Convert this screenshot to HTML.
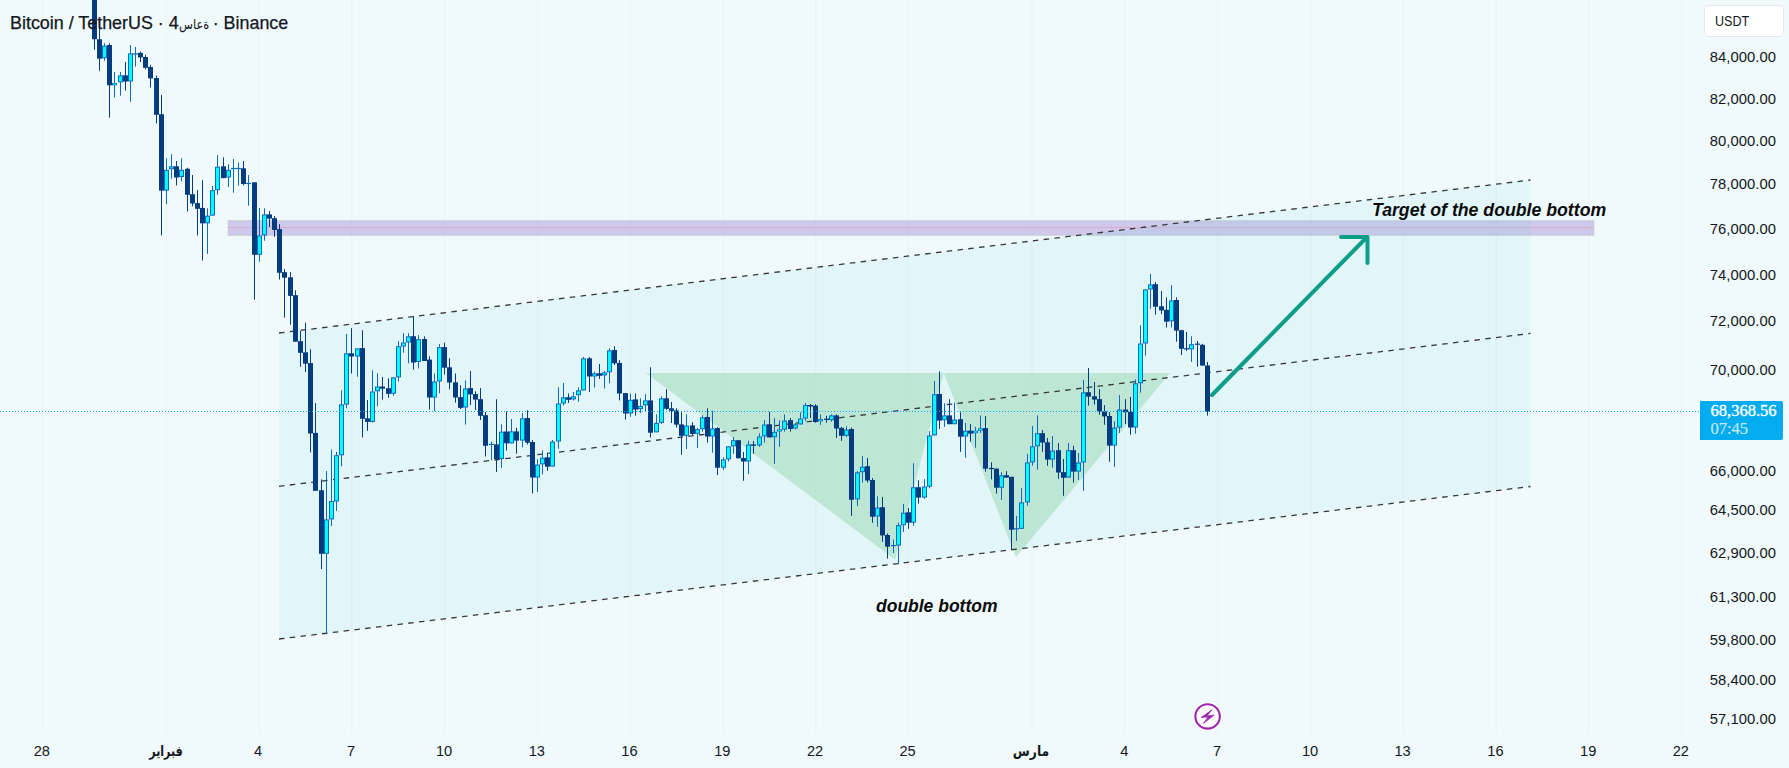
<!DOCTYPE html>
<html lang="ar"><head><meta charset="utf-8"><title>Bitcoin / TetherUS</title>
<style>
html,body{margin:0;padding:0;}
body{width:1789px;height:768px;overflow:hidden;background:#f0f9fb;font-family:"Liberation Sans","DejaVu Sans",sans-serif;}
#chart{position:absolute;left:0;top:0;width:1789px;height:768px;background:#f0f9fb;}
svg{position:absolute;left:0;top:0;}
.pl{transform:translateY(-0.4px);position:absolute;right:13px;width:90px;text-align:right;font-size:14.8px;line-height:16px;height:16px;color:#131722;letter-spacing:0.05px;}
.tl{position:absolute;top:742.8px;width:80px;margin-left:-40px;text-align:center;font-size:14.6px;line-height:16px;height:16px;color:#131722;}
.tl.b{font-weight:bold;font-family:"DejaVu Sans","Liberation Sans",sans-serif;font-size:14.5px;transform:scaleX(.76);top:742.6px;}
#title{position:absolute;left:10px;top:12.8px;font-size:17.9px;-webkit-text-stroke:0.25px #131722;line-height:20px;color:#131722;white-space:nowrap;}
#title .ar{unicode-bidi:bidi-override;direction:ltr;font-family:"DejaVu Sans",sans-serif;font-size:13.6px;-webkit-text-stroke:0;display:inline-block;transform-origin:0 70%;transform:scaleX(.84);margin-right:-7px;}
#usdt{position:absolute;left:1704px;top:5px;width:78px;height:30px;border:1px solid #e4e8ee;border-radius:5px;background:#fff;box-sizing:content-box;}
#usdt span{position:absolute;left:10px;top:7px;font-size:14.6px;line-height:16px;color:#131722;display:inline-block;transform-origin:0 50%;transform:scaleX(.86);}
#plabel{position:absolute;left:1700px;top:401px;width:83px;height:39px;background:#02acee;border-radius:0 2px 2px 0;color:#fff;}
#plabel .p{position:absolute;left:10.5px;top:0.7px;font-size:16.5px;line-height:18px;font-weight:normal;-webkit-text-stroke:0.35px #fff;font-family:"Liberation Serif",serif;white-space:nowrap;}
#plabel .t{position:absolute;left:10.5px;top:19.2px;font-size:16.5px;line-height:18px;color:#c6eafa;-webkit-text-stroke:0.2px #c6eafa;font-family:"Liberation Serif",serif;}
.ann{position:absolute;font-weight:bold;font-style:italic;font-size:17.7px;line-height:20px;color:#0b0b0b;white-space:nowrap;}
</style></head><body><div id="chart">

<svg width="1789" height="768" viewBox="0 0 1789 768">
<rect x="42.1" y="0" width="1" height="733" fill="#e9f2f6"/>
<rect x="165.8" y="0" width="1" height="733" fill="#e9f2f6"/>
<rect x="258.3" y="0" width="1" height="733" fill="#e9f2f6"/>
<rect x="351.3" y="0" width="1" height="733" fill="#e9f2f6"/>
<rect x="444.3" y="0" width="1" height="733" fill="#e9f2f6"/>
<rect x="537.1" y="0" width="1" height="733" fill="#e9f2f6"/>
<rect x="629.7" y="0" width="1" height="733" fill="#e9f2f6"/>
<rect x="722.6" y="0" width="1" height="733" fill="#e9f2f6"/>
<rect x="815.3" y="0" width="1" height="733" fill="#e9f2f6"/>
<rect x="907.8" y="0" width="1" height="733" fill="#e9f2f6"/>
<rect x="1031.5" y="0" width="1" height="733" fill="#e9f2f6"/>
<rect x="1124.5" y="0" width="1" height="733" fill="#e9f2f6"/>
<rect x="1217.3" y="0" width="1" height="733" fill="#e9f2f6"/>
<rect x="1310.3" y="0" width="1" height="733" fill="#e9f2f6"/>
<rect x="1402.9" y="0" width="1" height="733" fill="#e9f2f6"/>
<rect x="1495.7" y="0" width="1" height="733" fill="#e9f2f6"/>
<rect x="1588.5" y="0" width="1" height="733" fill="#e9f2f6"/>
<rect x="1681.1" y="0" width="1" height="733" fill="#e9f2f6"/>
<rect x="228" y="220.5" width="1366" height="15" fill="#b9a6e0" fill-opacity="0.6" stroke="#c9d4cf" stroke-opacity="0.7" stroke-width="1"/>
<line x1="228" y1="227.5" x2="1594" y2="227.5" stroke="#e88fb0" stroke-opacity="0.5" stroke-width="1"/>
<polygon points="279,333 1530.5,180 1530.5,486.5 279,639" fill="#26c6da" fill-opacity="0.07"/>
<polygon points="646,373 943.8,373 895,559.5" fill="#a5dcbe" fill-opacity="0.6"/>
<polygon points="943.8,373 1170,373 1016,557" fill="#a5dcbe" fill-opacity="0.6"/>
<line x1="279" y1="333" x2="1530.5" y2="180" stroke="#383838" stroke-width="1.3" stroke-dasharray="5.5,5.35"/>
<line x1="279" y1="486.3" x2="1530.5" y2="333.4" stroke="#383838" stroke-width="1.3" stroke-dasharray="5.5,5.35"/>
<line x1="279" y1="639" x2="1530.5" y2="486.5" stroke="#383838" stroke-width="1.3" stroke-dasharray="5.5,5.35"/>
<rect x="94" y="-2.0" width="1" height="51.7" fill="#053c80"/>
<rect x="92" y="-2.0" width="5" height="41.2" fill="#053c80"/>
<rect x="99" y="27.3" width="1" height="43.4" fill="#053c80"/>
<rect x="97" y="39.2" width="5" height="19.5" fill="#053c80"/>
<rect x="104" y="43.2" width="1" height="17.5" fill="#0b6cbf"/>
<rect x="102" y="45.6" width="5" height="12.7" fill="#0b6cbf"/><rect x="103" y="46.6" width="3" height="10.7" fill="#00fcff"/>
<rect x="109" y="43.2" width="1" height="74.4" fill="#053c80"/>
<rect x="107" y="45.0" width="5" height="40.3" fill="#053c80"/>
<rect x="114" y="72.0" width="1" height="25.5" fill="#0b6cbf"/>
<rect x="112" y="83.0" width="5" height="2.3" fill="#0b6cbf"/><rect x="113" y="83.6" width="3" height="1.1" fill="#00fcff"/>
<rect x="120" y="72.0" width="1" height="23.7" fill="#0b6cbf"/>
<rect x="118" y="75.3" width="5" height="7.1" fill="#0b6cbf"/><rect x="119" y="76.3" width="3" height="5.1" fill="#00fcff"/>
<rect x="125" y="62.0" width="1" height="28.6" fill="#053c80"/>
<rect x="123" y="75.3" width="5" height="6.2" fill="#053c80"/>
<rect x="130" y="45.0" width="1" height="56.7" fill="#0b6cbf"/>
<rect x="128" y="53.4" width="5" height="28.1" fill="#0b6cbf"/><rect x="129" y="54.4" width="3" height="26.1" fill="#00fcff"/>
<rect x="135" y="47.0" width="1" height="19.5" fill="#0b6cbf"/>
<rect x="133" y="53.3" width="5" height="1.2" fill="#0b6cbf"/>
<rect x="140" y="51.6" width="1" height="10.4" fill="#053c80"/>
<rect x="138" y="52.9" width="5" height="4.5" fill="#053c80"/>
<rect x="145" y="54.7" width="1" height="14.6" fill="#053c80"/>
<rect x="143" y="57.0" width="5" height="10.8" fill="#053c80"/>
<rect x="150" y="64.7" width="1" height="22.8" fill="#053c80"/>
<rect x="148" y="67.0" width="5" height="11.4" fill="#053c80"/>
<rect x="156" y="75.6" width="1" height="47.9" fill="#053c80"/>
<rect x="154" y="78.0" width="5" height="36.8" fill="#053c80"/>
<rect x="161" y="94.8" width="1" height="140.6" fill="#053c80"/>
<rect x="159" y="114.2" width="5" height="76.4" fill="#053c80"/>
<rect x="166" y="158.3" width="1" height="45.9" fill="#0b6cbf"/>
<rect x="164" y="169.8" width="5" height="20.8" fill="#0b6cbf"/><rect x="165" y="170.8" width="3" height="18.8" fill="#00fcff"/>
<rect x="171" y="154.2" width="1" height="24.6" fill="#0b6cbf"/>
<rect x="169" y="166.3" width="5" height="2.9" fill="#0b6cbf"/><rect x="170" y="167.3" width="3" height="0.9" fill="#00fcff"/>
<rect x="176" y="161.0" width="1" height="24.4" fill="#053c80"/>
<rect x="174" y="166.3" width="5" height="11.2" fill="#053c80"/>
<rect x="181" y="158.3" width="1" height="23.0" fill="#0b6cbf"/>
<rect x="179" y="169.8" width="5" height="7.2" fill="#0b6cbf"/><rect x="180" y="170.8" width="3" height="5.2" fill="#00fcff"/>
<rect x="187" y="167.7" width="1" height="43.8" fill="#053c80"/>
<rect x="185" y="168.8" width="5" height="26.0" fill="#053c80"/>
<rect x="192" y="175.0" width="1" height="31.3" fill="#053c80"/>
<rect x="190" y="194.2" width="5" height="9.3" fill="#053c80"/>
<rect x="197" y="190.0" width="1" height="45.4" fill="#053c80"/>
<rect x="195" y="203.1" width="5" height="5.7" fill="#053c80"/>
<rect x="202" y="180.2" width="1" height="80.3" fill="#053c80"/>
<rect x="200" y="207.9" width="5" height="15.4" fill="#053c80"/>
<rect x="207" y="208.3" width="1" height="45.5" fill="#0b6cbf"/>
<rect x="205" y="215.6" width="5" height="7.7" fill="#0b6cbf"/><rect x="206" y="216.6" width="3" height="5.7" fill="#00fcff"/>
<rect x="212" y="186.0" width="1" height="29.6" fill="#0b6cbf"/>
<rect x="210" y="190.2" width="5" height="25.4" fill="#0b6cbf"/><rect x="211" y="191.2" width="3" height="23.4" fill="#00fcff"/>
<rect x="217" y="155.2" width="1" height="39.6" fill="#0b6cbf"/>
<rect x="215" y="166.7" width="5" height="23.5" fill="#0b6cbf"/><rect x="216" y="167.7" width="3" height="21.5" fill="#00fcff"/>
<rect x="223" y="157.3" width="1" height="20.8" fill="#053c80"/>
<rect x="221" y="166.3" width="5" height="11.8" fill="#053c80"/>
<rect x="228" y="164.2" width="1" height="22.8" fill="#0b6cbf"/>
<rect x="226" y="169.8" width="5" height="7.7" fill="#0b6cbf"/><rect x="227" y="170.8" width="3" height="5.7" fill="#00fcff"/>
<rect x="233" y="159.0" width="1" height="33.7" fill="#0b6cbf"/>
<rect x="231" y="167.9" width="5" height="1.2" fill="#0b6cbf"/>
<rect x="238" y="162.5" width="1" height="23.3" fill="#0b6cbf"/>
<rect x="236" y="167.9" width="5" height="1.2" fill="#0b6cbf"/>
<rect x="243" y="161.0" width="1" height="24.4" fill="#053c80"/>
<rect x="241" y="168.3" width="5" height="15.7" fill="#053c80"/>
<rect x="248" y="175.0" width="1" height="30.6" fill="#0b6cbf"/>
<rect x="246" y="182.9" width="5" height="1.2" fill="#0b6cbf"/>
<rect x="254" y="182.3" width="1" height="117.4" fill="#053c80"/>
<rect x="252" y="182.3" width="5" height="72.5" fill="#053c80"/>
<rect x="259" y="207.9" width="1" height="53.7" fill="#0b6cbf"/>
<rect x="257" y="235.4" width="5" height="19.4" fill="#0b6cbf"/><rect x="258" y="236.4" width="3" height="17.4" fill="#00fcff"/>
<rect x="264" y="208.3" width="1" height="32.4" fill="#0b6cbf"/>
<rect x="262" y="214.4" width="5" height="21.0" fill="#0b6cbf"/><rect x="263" y="215.4" width="3" height="19.0" fill="#00fcff"/>
<rect x="269" y="211.0" width="1" height="16.0" fill="#053c80"/>
<rect x="267" y="214.4" width="5" height="4.2" fill="#053c80"/>
<rect x="274" y="216.0" width="1" height="20.8" fill="#053c80"/>
<rect x="272" y="218.2" width="5" height="11.8" fill="#053c80"/>
<rect x="279" y="224.2" width="1" height="55.3" fill="#053c80"/>
<rect x="277" y="229.1" width="5" height="43.7" fill="#053c80"/>
<rect x="284" y="269.0" width="1" height="48.6" fill="#053c80"/>
<rect x="282" y="272.1" width="5" height="5.6" fill="#053c80"/>
<rect x="290" y="272.1" width="1" height="52.6" fill="#053c80"/>
<rect x="288" y="277.3" width="5" height="18.6" fill="#053c80"/>
<rect x="295" y="290.3" width="1" height="51.4" fill="#053c80"/>
<rect x="293" y="295.2" width="5" height="46.5" fill="#053c80"/>
<rect x="300" y="330.9" width="1" height="35.9" fill="#053c80"/>
<rect x="298" y="341.2" width="5" height="11.6" fill="#053c80"/>
<rect x="305" y="322.8" width="1" height="49.1" fill="#053c80"/>
<rect x="303" y="352.3" width="5" height="11.4" fill="#053c80"/>
<rect x="310" y="349.2" width="1" height="103.2" fill="#053c80"/>
<rect x="308" y="363.1" width="5" height="70.4" fill="#053c80"/>
<rect x="315" y="403.1" width="1" height="87.7" fill="#053c80"/>
<rect x="313" y="432.9" width="5" height="57.9" fill="#053c80"/>
<rect x="321" y="479.3" width="1" height="89.7" fill="#053c80"/>
<rect x="319" y="490.2" width="5" height="63.6" fill="#053c80"/>
<rect x="326" y="471.0" width="1" height="163.3" fill="#0b6cbf"/>
<rect x="324" y="519.4" width="5" height="34.4" fill="#0b6cbf"/><rect x="325" y="520.4" width="3" height="32.4" fill="#00fcff"/>
<rect x="331" y="449.5" width="1" height="76.5" fill="#0b6cbf"/>
<rect x="329" y="501.0" width="5" height="18.4" fill="#0b6cbf"/><rect x="330" y="502.0" width="3" height="16.4" fill="#00fcff"/>
<rect x="336" y="452.0" width="1" height="59.0" fill="#0b6cbf"/>
<rect x="334" y="455.2" width="5" height="46.3" fill="#0b6cbf"/><rect x="335" y="456.2" width="3" height="44.3" fill="#00fcff"/>
<rect x="341" y="390.2" width="1" height="76.1" fill="#0b6cbf"/>
<rect x="339" y="404.4" width="5" height="50.9" fill="#0b6cbf"/><rect x="340" y="405.4" width="3" height="48.9" fill="#00fcff"/>
<rect x="346" y="334.0" width="1" height="74.3" fill="#0b6cbf"/>
<rect x="344" y="353.3" width="5" height="51.3" fill="#0b6cbf"/><rect x="345" y="354.3" width="3" height="49.3" fill="#00fcff"/>
<rect x="351" y="328.1" width="1" height="45.4" fill="#053c80"/>
<rect x="349" y="353.3" width="5" height="3.2" fill="#053c80"/>
<rect x="357" y="348.4" width="1" height="28.3" fill="#0b6cbf"/>
<rect x="355" y="348.4" width="5" height="8.1" fill="#0b6cbf"/><rect x="356" y="349.4" width="3" height="6.1" fill="#00fcff"/>
<rect x="362" y="330.2" width="1" height="107.3" fill="#053c80"/>
<rect x="360" y="348.1" width="5" height="70.7" fill="#053c80"/>
<rect x="367" y="400.0" width="1" height="30.8" fill="#053c80"/>
<rect x="365" y="418.3" width="5" height="3.6" fill="#053c80"/>
<rect x="372" y="370.4" width="1" height="52.1" fill="#0b6cbf"/>
<rect x="370" y="391.5" width="5" height="30.4" fill="#0b6cbf"/><rect x="371" y="392.5" width="3" height="28.4" fill="#00fcff"/>
<rect x="377" y="373.3" width="1" height="33.0" fill="#0b6cbf"/>
<rect x="375" y="386.5" width="5" height="4.8" fill="#0b6cbf"/><rect x="376" y="387.5" width="3" height="2.8" fill="#00fcff"/>
<rect x="382" y="377.0" width="1" height="22.6" fill="#053c80"/>
<rect x="380" y="386.5" width="5" height="2.2" fill="#053c80"/>
<rect x="388" y="378.3" width="1" height="19.3" fill="#053c80"/>
<rect x="386" y="388.2" width="5" height="5.6" fill="#053c80"/>
<rect x="393" y="377.4" width="1" height="18.4" fill="#0b6cbf"/>
<rect x="391" y="377.4" width="5" height="16.4" fill="#0b6cbf"/><rect x="392" y="378.4" width="3" height="14.4" fill="#00fcff"/>
<rect x="398" y="341.2" width="1" height="40.3" fill="#0b6cbf"/>
<rect x="396" y="346.2" width="5" height="31.2" fill="#0b6cbf"/><rect x="397" y="347.2" width="3" height="29.2" fill="#00fcff"/>
<rect x="403" y="333.2" width="1" height="19.5" fill="#0b6cbf"/>
<rect x="401" y="342.5" width="5" height="4.0" fill="#0b6cbf"/><rect x="402" y="343.5" width="3" height="2.0" fill="#00fcff"/>
<rect x="408" y="333.2" width="1" height="30.1" fill="#0b6cbf"/>
<rect x="406" y="336.3" width="5" height="6.2" fill="#0b6cbf"/><rect x="407" y="337.3" width="3" height="4.2" fill="#00fcff"/>
<rect x="413" y="316.3" width="1" height="53.3" fill="#053c80"/>
<rect x="411" y="336.2" width="5" height="26.3" fill="#053c80"/>
<rect x="418" y="335.0" width="1" height="33.5" fill="#0b6cbf"/>
<rect x="416" y="339.2" width="5" height="22.8" fill="#0b6cbf"/><rect x="417" y="340.2" width="3" height="20.8" fill="#00fcff"/>
<rect x="424" y="336.4" width="1" height="24.6" fill="#053c80"/>
<rect x="422" y="339.0" width="5" height="22.0" fill="#053c80"/>
<rect x="429" y="356.3" width="1" height="53.3" fill="#053c80"/>
<rect x="427" y="359.6" width="5" height="37.9" fill="#053c80"/>
<rect x="434" y="373.5" width="1" height="37.5" fill="#0b6cbf"/>
<rect x="432" y="381.5" width="5" height="16.0" fill="#0b6cbf"/><rect x="433" y="382.5" width="3" height="14.0" fill="#00fcff"/>
<rect x="439" y="344.0" width="1" height="49.3" fill="#0b6cbf"/>
<rect x="437" y="347.1" width="5" height="34.4" fill="#0b6cbf"/><rect x="438" y="348.1" width="3" height="32.4" fill="#00fcff"/>
<rect x="444" y="342.7" width="1" height="31.9" fill="#053c80"/>
<rect x="442" y="347.1" width="5" height="20.6" fill="#053c80"/>
<rect x="449" y="358.3" width="1" height="30.9" fill="#053c80"/>
<rect x="447" y="367.3" width="5" height="15.2" fill="#053c80"/>
<rect x="455" y="373.5" width="1" height="29.2" fill="#053c80"/>
<rect x="453" y="382.3" width="5" height="15.2" fill="#053c80"/>
<rect x="460" y="385.0" width="1" height="24.0" fill="#053c80"/>
<rect x="458" y="397.1" width="5" height="10.8" fill="#053c80"/>
<rect x="465" y="380.4" width="1" height="44.2" fill="#0b6cbf"/>
<rect x="463" y="388.5" width="5" height="19.0" fill="#0b6cbf"/><rect x="464" y="389.5" width="3" height="17.0" fill="#00fcff"/>
<rect x="470" y="371.0" width="1" height="33.8" fill="#053c80"/>
<rect x="468" y="388.1" width="5" height="6.3" fill="#053c80"/>
<rect x="475" y="391.3" width="1" height="18.7" fill="#053c80"/>
<rect x="473" y="394.0" width="5" height="5.6" fill="#053c80"/>
<rect x="480" y="388.1" width="1" height="31.9" fill="#053c80"/>
<rect x="478" y="399.2" width="5" height="16.6" fill="#053c80"/>
<rect x="485" y="412.0" width="1" height="44.5" fill="#053c80"/>
<rect x="483" y="415.2" width="5" height="30.6" fill="#053c80"/>
<rect x="491" y="441.7" width="1" height="18.7" fill="#0b6cbf"/>
<rect x="489" y="443.8" width="5" height="1.2" fill="#0b6cbf"/>
<rect x="496" y="399.2" width="1" height="72.8" fill="#053c80"/>
<rect x="494" y="444.4" width="5" height="14.6" fill="#053c80"/>
<rect x="501" y="424.2" width="1" height="43.8" fill="#0b6cbf"/>
<rect x="499" y="431.7" width="5" height="27.3" fill="#0b6cbf"/><rect x="500" y="432.7" width="3" height="25.3" fill="#00fcff"/>
<rect x="506" y="411.5" width="1" height="39.1" fill="#053c80"/>
<rect x="504" y="431.5" width="5" height="11.8" fill="#053c80"/>
<rect x="511" y="419.0" width="1" height="24.4" fill="#0b6cbf"/>
<rect x="509" y="431.4" width="5" height="12.0" fill="#0b6cbf"/><rect x="510" y="432.4" width="3" height="10.0" fill="#00fcff"/>
<rect x="516" y="427.8" width="1" height="25.8" fill="#053c80"/>
<rect x="514" y="431.4" width="5" height="9.2" fill="#053c80"/>
<rect x="522" y="413.0" width="1" height="34.4" fill="#0b6cbf"/>
<rect x="520" y="418.4" width="5" height="22.2" fill="#0b6cbf"/><rect x="521" y="419.4" width="3" height="20.2" fill="#00fcff"/>
<rect x="527" y="410.2" width="1" height="34.3" fill="#053c80"/>
<rect x="525" y="418.0" width="5" height="24.7" fill="#053c80"/>
<rect x="532" y="440.0" width="1" height="53.5" fill="#053c80"/>
<rect x="530" y="442.0" width="5" height="35.5" fill="#053c80"/>
<rect x="537" y="459.2" width="1" height="32.8" fill="#0b6cbf"/>
<rect x="535" y="464.6" width="5" height="12.9" fill="#0b6cbf"/><rect x="536" y="465.6" width="3" height="10.9" fill="#00fcff"/>
<rect x="542" y="450.4" width="1" height="24.0" fill="#0b6cbf"/>
<rect x="540" y="457.7" width="5" height="6.7" fill="#0b6cbf"/><rect x="541" y="458.7" width="3" height="4.7" fill="#00fcff"/>
<rect x="547" y="452.5" width="1" height="18.3" fill="#053c80"/>
<rect x="545" y="457.3" width="5" height="9.4" fill="#053c80"/>
<rect x="552" y="440.0" width="1" height="26.5" fill="#0b6cbf"/>
<rect x="550" y="441.5" width="5" height="25.0" fill="#0b6cbf"/><rect x="551" y="442.5" width="3" height="23.0" fill="#00fcff"/>
<rect x="558" y="387.3" width="1" height="61.5" fill="#0b6cbf"/>
<rect x="556" y="403.5" width="5" height="38.0" fill="#0b6cbf"/><rect x="557" y="404.5" width="3" height="36.0" fill="#00fcff"/>
<rect x="563" y="383.0" width="1" height="22.6" fill="#0b6cbf"/>
<rect x="561" y="397.3" width="5" height="6.2" fill="#0b6cbf"/><rect x="562" y="398.3" width="3" height="4.2" fill="#00fcff"/>
<rect x="568" y="393.5" width="1" height="9.5" fill="#053c80"/>
<rect x="566" y="397.3" width="5" height="2.5" fill="#053c80"/>
<rect x="573" y="392.0" width="1" height="8.4" fill="#0b6cbf"/>
<rect x="571" y="396.3" width="5" height="3.1" fill="#0b6cbf"/><rect x="572" y="397.3" width="3" height="1.1" fill="#00fcff"/>
<rect x="578" y="387.5" width="1" height="14.4" fill="#0b6cbf"/>
<rect x="576" y="390.4" width="5" height="4.8" fill="#0b6cbf"/><rect x="577" y="391.4" width="3" height="2.8" fill="#00fcff"/>
<rect x="583" y="357.0" width="1" height="33.4" fill="#0b6cbf"/>
<rect x="581" y="358.3" width="5" height="32.1" fill="#0b6cbf"/><rect x="582" y="359.3" width="3" height="30.1" fill="#00fcff"/>
<rect x="589" y="357.0" width="1" height="35.0" fill="#053c80"/>
<rect x="587" y="358.3" width="5" height="18.2" fill="#053c80"/>
<rect x="594" y="371.7" width="1" height="15.8" fill="#0b6cbf"/>
<rect x="592" y="373.3" width="5" height="3.2" fill="#0b6cbf"/><rect x="593" y="374.3" width="3" height="1.2" fill="#00fcff"/>
<rect x="599" y="364.0" width="1" height="15.0" fill="#053c80"/>
<rect x="597" y="373.3" width="5" height="2.5" fill="#053c80"/>
<rect x="604" y="370.8" width="1" height="17.7" fill="#0b6cbf"/>
<rect x="602" y="372.3" width="5" height="3.1" fill="#0b6cbf"/><rect x="603" y="373.3" width="3" height="1.1" fill="#00fcff"/>
<rect x="609" y="348.3" width="1" height="35.0" fill="#0b6cbf"/>
<rect x="607" y="350.4" width="5" height="21.9" fill="#0b6cbf"/><rect x="608" y="351.4" width="3" height="19.9" fill="#00fcff"/>
<rect x="614" y="346.3" width="1" height="18.7" fill="#053c80"/>
<rect x="612" y="350.0" width="5" height="13.3" fill="#053c80"/>
<rect x="619" y="360.2" width="1" height="40.2" fill="#053c80"/>
<rect x="617" y="362.9" width="5" height="30.6" fill="#053c80"/>
<rect x="625" y="393.1" width="1" height="26.5" fill="#053c80"/>
<rect x="623" y="393.1" width="5" height="20.4" fill="#053c80"/>
<rect x="630" y="393.5" width="1" height="23.2" fill="#0b6cbf"/>
<rect x="628" y="399.8" width="5" height="13.7" fill="#0b6cbf"/><rect x="629" y="400.8" width="3" height="11.7" fill="#00fcff"/>
<rect x="635" y="393.5" width="1" height="22.1" fill="#053c80"/>
<rect x="633" y="399.4" width="5" height="10.2" fill="#053c80"/>
<rect x="640" y="398.3" width="1" height="14.7" fill="#0b6cbf"/>
<rect x="638" y="405.9" width="5" height="3.3" fill="#0b6cbf"/><rect x="639" y="406.9" width="3" height="1.3" fill="#00fcff"/>
<rect x="645" y="394.2" width="1" height="17.7" fill="#0b6cbf"/>
<rect x="643" y="400.4" width="5" height="5.0" fill="#0b6cbf"/><rect x="644" y="401.4" width="3" height="3.0" fill="#00fcff"/>
<rect x="650" y="367.3" width="1" height="70.2" fill="#053c80"/>
<rect x="648" y="400.4" width="5" height="32.3" fill="#053c80"/>
<rect x="656" y="414.2" width="1" height="18.1" fill="#0b6cbf"/>
<rect x="654" y="422.9" width="5" height="9.4" fill="#0b6cbf"/><rect x="655" y="423.9" width="3" height="7.4" fill="#00fcff"/>
<rect x="661" y="396.3" width="1" height="27.7" fill="#0b6cbf"/>
<rect x="659" y="398.3" width="5" height="24.6" fill="#0b6cbf"/><rect x="660" y="399.3" width="3" height="22.6" fill="#00fcff"/>
<rect x="666" y="389.2" width="1" height="20.6" fill="#053c80"/>
<rect x="664" y="398.3" width="5" height="10.5" fill="#053c80"/>
<rect x="671" y="402.0" width="1" height="21.0" fill="#053c80"/>
<rect x="669" y="408.3" width="5" height="2.5" fill="#053c80"/>
<rect x="676" y="408.3" width="1" height="19.2" fill="#053c80"/>
<rect x="674" y="410.4" width="5" height="14.2" fill="#053c80"/>
<rect x="681" y="411.5" width="1" height="43.3" fill="#053c80"/>
<rect x="679" y="424.4" width="5" height="11.4" fill="#053c80"/>
<rect x="686" y="414.2" width="1" height="34.8" fill="#0b6cbf"/>
<rect x="684" y="425.6" width="5" height="10.2" fill="#0b6cbf"/><rect x="685" y="426.6" width="3" height="8.2" fill="#00fcff"/>
<rect x="692" y="422.3" width="1" height="12.7" fill="#053c80"/>
<rect x="690" y="425.4" width="5" height="8.6" fill="#053c80"/>
<rect x="697" y="428.0" width="1" height="20.0" fill="#0b6cbf"/>
<rect x="695" y="429.2" width="5" height="4.6" fill="#0b6cbf"/><rect x="696" y="430.2" width="3" height="2.6" fill="#00fcff"/>
<rect x="702" y="415.2" width="1" height="16.5" fill="#0b6cbf"/>
<rect x="700" y="417.3" width="5" height="11.9" fill="#0b6cbf"/><rect x="701" y="418.3" width="3" height="9.9" fill="#00fcff"/>
<rect x="707" y="408.3" width="1" height="34.4" fill="#053c80"/>
<rect x="705" y="417.0" width="5" height="19.5" fill="#053c80"/>
<rect x="712" y="410.8" width="1" height="41.9" fill="#0b6cbf"/>
<rect x="710" y="428.5" width="5" height="8.0" fill="#0b6cbf"/><rect x="711" y="429.5" width="3" height="6.0" fill="#00fcff"/>
<rect x="717" y="427.0" width="1" height="48.0" fill="#053c80"/>
<rect x="715" y="428.1" width="5" height="39.6" fill="#053c80"/>
<rect x="723" y="457.3" width="1" height="12.5" fill="#0b6cbf"/>
<rect x="721" y="459.4" width="5" height="8.3" fill="#0b6cbf"/><rect x="722" y="460.4" width="3" height="6.3" fill="#00fcff"/>
<rect x="728" y="446.3" width="1" height="15.2" fill="#0b6cbf"/>
<rect x="726" y="446.3" width="5" height="13.1" fill="#0b6cbf"/><rect x="727" y="447.3" width="3" height="11.1" fill="#00fcff"/>
<rect x="733" y="437.0" width="1" height="16.8" fill="#0b6cbf"/>
<rect x="731" y="440.2" width="5" height="6.1" fill="#0b6cbf"/><rect x="732" y="441.2" width="3" height="4.1" fill="#00fcff"/>
<rect x="738" y="440.2" width="1" height="18.1" fill="#053c80"/>
<rect x="736" y="440.2" width="5" height="18.1" fill="#053c80"/>
<rect x="743" y="452.0" width="1" height="28.8" fill="#053c80"/>
<rect x="741" y="458.0" width="5" height="3.5" fill="#053c80"/>
<rect x="748" y="440.6" width="1" height="33.4" fill="#0b6cbf"/>
<rect x="746" y="444.4" width="5" height="17.1" fill="#0b6cbf"/><rect x="747" y="445.4" width="3" height="15.1" fill="#00fcff"/>
<rect x="753" y="441.0" width="1" height="12.8" fill="#053c80"/>
<rect x="751" y="444.4" width="5" height="1.4" fill="#053c80"/>
<rect x="759" y="433.3" width="1" height="13.6" fill="#0b6cbf"/>
<rect x="757" y="436.5" width="5" height="8.9" fill="#0b6cbf"/><rect x="758" y="437.5" width="3" height="6.9" fill="#00fcff"/>
<rect x="764" y="420.2" width="1" height="22.4" fill="#0b6cbf"/>
<rect x="762" y="424.5" width="5" height="11.9" fill="#0b6cbf"/><rect x="763" y="425.5" width="3" height="9.9" fill="#00fcff"/>
<rect x="769" y="411.9" width="1" height="25.5" fill="#053c80"/>
<rect x="767" y="424.3" width="5" height="13.1" fill="#053c80"/>
<rect x="774" y="418.0" width="1" height="45.8" fill="#0b6cbf"/>
<rect x="772" y="431.8" width="5" height="5.4" fill="#0b6cbf"/><rect x="773" y="432.8" width="3" height="3.4" fill="#00fcff"/>
<rect x="779" y="420.2" width="1" height="26.5" fill="#0b6cbf"/>
<rect x="777" y="429.4" width="5" height="2.1" fill="#0b6cbf"/><rect x="778" y="430.0" width="3" height="0.9" fill="#00fcff"/>
<rect x="784" y="414.4" width="1" height="17.3" fill="#0b6cbf"/>
<rect x="782" y="420.6" width="5" height="9.0" fill="#0b6cbf"/><rect x="783" y="421.6" width="3" height="7.0" fill="#00fcff"/>
<rect x="790" y="418.1" width="1" height="13.6" fill="#053c80"/>
<rect x="788" y="420.2" width="5" height="8.8" fill="#053c80"/>
<rect x="795" y="423.1" width="1" height="6.3" fill="#0b6cbf"/>
<rect x="793" y="424.4" width="5" height="4.1" fill="#0b6cbf"/><rect x="794" y="425.4" width="3" height="2.1" fill="#00fcff"/>
<rect x="800" y="412.3" width="1" height="12.1" fill="#0b6cbf"/>
<rect x="798" y="418.5" width="5" height="5.9" fill="#0b6cbf"/><rect x="799" y="419.5" width="3" height="3.9" fill="#00fcff"/>
<rect x="805" y="403.0" width="1" height="18.0" fill="#0b6cbf"/>
<rect x="803" y="405.0" width="5" height="13.5" fill="#0b6cbf"/><rect x="804" y="406.0" width="3" height="11.5" fill="#00fcff"/>
<rect x="810" y="404.0" width="1" height="14.0" fill="#053c80"/>
<rect x="808" y="405.0" width="5" height="1.5" fill="#053c80"/>
<rect x="815" y="404.4" width="1" height="18.3" fill="#053c80"/>
<rect x="813" y="405.6" width="5" height="16.4" fill="#053c80"/>
<rect x="820" y="414.4" width="1" height="10.4" fill="#0b6cbf"/>
<rect x="818" y="419.2" width="5" height="2.1" fill="#0b6cbf"/><rect x="819" y="419.8" width="3" height="0.9" fill="#00fcff"/>
<rect x="826" y="415.8" width="1" height="6.9" fill="#053c80"/>
<rect x="824" y="418.7" width="5" height="1.2" fill="#053c80"/>
<rect x="831" y="414.4" width="1" height="7.3" fill="#0b6cbf"/>
<rect x="829" y="415.4" width="5" height="4.8" fill="#0b6cbf"/><rect x="830" y="416.4" width="3" height="2.8" fill="#00fcff"/>
<rect x="836" y="414.4" width="1" height="23.5" fill="#053c80"/>
<rect x="834" y="415.4" width="5" height="13.1" fill="#053c80"/>
<rect x="841" y="426.9" width="1" height="13.9" fill="#053c80"/>
<rect x="839" y="427.9" width="5" height="7.9" fill="#053c80"/>
<rect x="846" y="426.3" width="1" height="11.0" fill="#0b6cbf"/>
<rect x="844" y="429.6" width="5" height="6.2" fill="#0b6cbf"/><rect x="845" y="430.6" width="3" height="4.2" fill="#00fcff"/>
<rect x="851" y="427.5" width="1" height="88.3" fill="#053c80"/>
<rect x="849" y="429.0" width="5" height="70.8" fill="#053c80"/>
<rect x="857" y="471.0" width="1" height="35.0" fill="#0b6cbf"/>
<rect x="855" y="472.3" width="5" height="27.1" fill="#0b6cbf"/><rect x="856" y="473.3" width="3" height="25.1" fill="#00fcff"/>
<rect x="862" y="456.2" width="1" height="26.4" fill="#0b6cbf"/>
<rect x="860" y="466.7" width="5" height="5.5" fill="#0b6cbf"/><rect x="861" y="467.7" width="3" height="3.5" fill="#00fcff"/>
<rect x="867" y="458.0" width="1" height="24.6" fill="#053c80"/>
<rect x="865" y="466.2" width="5" height="14.3" fill="#053c80"/>
<rect x="872" y="478.0" width="1" height="44.7" fill="#053c80"/>
<rect x="870" y="480.0" width="5" height="36.7" fill="#053c80"/>
<rect x="877" y="496.3" width="1" height="30.3" fill="#0b6cbf"/>
<rect x="875" y="507.6" width="5" height="8.9" fill="#0b6cbf"/><rect x="876" y="508.6" width="3" height="6.9" fill="#00fcff"/>
<rect x="882" y="497.0" width="1" height="44.9" fill="#053c80"/>
<rect x="880" y="507.2" width="5" height="28.2" fill="#053c80"/>
<rect x="887" y="533.5" width="1" height="25.0" fill="#053c80"/>
<rect x="885" y="535.0" width="5" height="11.7" fill="#053c80"/>
<rect x="893" y="539.4" width="1" height="13.6" fill="#0b6cbf"/>
<rect x="891" y="545.0" width="5" height="1.2" fill="#0b6cbf"/>
<rect x="898" y="522.7" width="1" height="41.1" fill="#0b6cbf"/>
<rect x="896" y="525.2" width="5" height="20.4" fill="#0b6cbf"/><rect x="897" y="526.2" width="3" height="18.4" fill="#00fcff"/>
<rect x="903" y="504.0" width="1" height="27.9" fill="#0b6cbf"/>
<rect x="901" y="512.7" width="5" height="12.5" fill="#0b6cbf"/><rect x="902" y="513.7" width="3" height="10.5" fill="#00fcff"/>
<rect x="908" y="508.0" width="1" height="20.8" fill="#053c80"/>
<rect x="906" y="512.3" width="5" height="10.4" fill="#053c80"/>
<rect x="913" y="463.2" width="1" height="62.4" fill="#0b6cbf"/>
<rect x="911" y="487.3" width="5" height="35.4" fill="#0b6cbf"/><rect x="912" y="488.3" width="3" height="33.4" fill="#00fcff"/>
<rect x="918" y="480.2" width="1" height="23.3" fill="#053c80"/>
<rect x="916" y="487.2" width="5" height="10.4" fill="#053c80"/>
<rect x="924" y="479.2" width="1" height="19.6" fill="#0b6cbf"/>
<rect x="922" y="486.5" width="5" height="11.1" fill="#0b6cbf"/><rect x="923" y="487.5" width="3" height="9.1" fill="#00fcff"/>
<rect x="929" y="431.2" width="1" height="57.1" fill="#0b6cbf"/>
<rect x="927" y="435.4" width="5" height="51.3" fill="#0b6cbf"/><rect x="928" y="436.4" width="3" height="49.3" fill="#00fcff"/>
<rect x="934" y="381.0" width="1" height="54.4" fill="#0b6cbf"/>
<rect x="932" y="394.2" width="5" height="41.2" fill="#0b6cbf"/><rect x="933" y="395.2" width="3" height="39.2" fill="#00fcff"/>
<rect x="939" y="371.3" width="1" height="57.7" fill="#053c80"/>
<rect x="937" y="394.0" width="5" height="26.6" fill="#053c80"/>
<rect x="944" y="403.3" width="1" height="23.6" fill="#0b6cbf"/>
<rect x="942" y="415.4" width="5" height="4.8" fill="#0b6cbf"/><rect x="943" y="416.4" width="3" height="2.8" fill="#00fcff"/>
<rect x="949" y="399.2" width="1" height="25.0" fill="#053c80"/>
<rect x="947" y="415.4" width="5" height="8.8" fill="#053c80"/>
<rect x="954" y="402.5" width="1" height="21.7" fill="#0b6cbf"/>
<rect x="952" y="419.6" width="5" height="4.6" fill="#0b6cbf"/><rect x="953" y="420.6" width="3" height="2.6" fill="#00fcff"/>
<rect x="960" y="412.3" width="1" height="39.5" fill="#053c80"/>
<rect x="958" y="419.2" width="5" height="17.5" fill="#053c80"/>
<rect x="965" y="423.0" width="1" height="34.8" fill="#0b6cbf"/>
<rect x="963" y="430.7" width="5" height="5.8" fill="#0b6cbf"/><rect x="964" y="431.7" width="3" height="3.8" fill="#00fcff"/>
<rect x="970" y="424.1" width="1" height="17.8" fill="#053c80"/>
<rect x="968" y="430.7" width="5" height="2.9" fill="#053c80"/>
<rect x="975" y="426.8" width="1" height="21.0" fill="#0b6cbf"/>
<rect x="973" y="430.7" width="5" height="2.5" fill="#0b6cbf"/><rect x="974" y="431.3" width="3" height="1.3" fill="#00fcff"/>
<rect x="980" y="415.4" width="1" height="17.6" fill="#0b6cbf"/>
<rect x="978" y="428.3" width="5" height="2.4" fill="#0b6cbf"/><rect x="979" y="428.9" width="3" height="1.2" fill="#00fcff"/>
<rect x="985" y="416.0" width="1" height="55.7" fill="#053c80"/>
<rect x="983" y="428.1" width="5" height="40.6" fill="#053c80"/>
<rect x="991" y="462.2" width="1" height="17.2" fill="#053c80"/>
<rect x="989" y="467.9" width="5" height="1.2" fill="#053c80"/>
<rect x="996" y="468.6" width="1" height="25.0" fill="#053c80"/>
<rect x="994" y="468.6" width="5" height="19.1" fill="#053c80"/>
<rect x="1001" y="472.1" width="1" height="27.8" fill="#0b6cbf"/>
<rect x="999" y="475.4" width="5" height="12.3" fill="#0b6cbf"/><rect x="1000" y="476.4" width="3" height="10.3" fill="#00fcff"/>
<rect x="1006" y="471.2" width="1" height="6.4" fill="#053c80"/>
<rect x="1004" y="475.2" width="5" height="2.4" fill="#053c80"/>
<rect x="1011" y="476.8" width="1" height="73.2" fill="#053c80"/>
<rect x="1009" y="476.8" width="5" height="53.0" fill="#053c80"/>
<rect x="1016" y="515.8" width="1" height="25.0" fill="#0b6cbf"/>
<rect x="1014" y="528.2" width="5" height="1.2" fill="#0b6cbf"/>
<rect x="1021" y="488.2" width="1" height="40.6" fill="#0b6cbf"/>
<rect x="1019" y="502.4" width="5" height="26.4" fill="#0b6cbf"/><rect x="1020" y="503.4" width="3" height="24.4" fill="#00fcff"/>
<rect x="1027" y="453.9" width="1" height="51.7" fill="#0b6cbf"/>
<rect x="1025" y="462.4" width="5" height="40.0" fill="#0b6cbf"/><rect x="1026" y="463.4" width="3" height="38.0" fill="#00fcff"/>
<rect x="1032" y="425.9" width="1" height="39.7" fill="#0b6cbf"/>
<rect x="1030" y="446.3" width="5" height="16.1" fill="#0b6cbf"/><rect x="1031" y="447.3" width="3" height="14.1" fill="#00fcff"/>
<rect x="1037" y="415.3" width="1" height="54.4" fill="#0b6cbf"/>
<rect x="1035" y="433.2" width="5" height="13.1" fill="#0b6cbf"/><rect x="1036" y="434.2" width="3" height="11.1" fill="#00fcff"/>
<rect x="1042" y="430.1" width="1" height="21.7" fill="#053c80"/>
<rect x="1040" y="433.2" width="5" height="9.4" fill="#053c80"/>
<rect x="1047" y="438.0" width="1" height="27.8" fill="#053c80"/>
<rect x="1045" y="442.3" width="5" height="17.3" fill="#053c80"/>
<rect x="1052" y="436.0" width="1" height="31.7" fill="#0b6cbf"/>
<rect x="1050" y="450.6" width="5" height="9.0" fill="#0b6cbf"/><rect x="1051" y="451.6" width="3" height="7.0" fill="#00fcff"/>
<rect x="1058" y="443.0" width="1" height="35.8" fill="#053c80"/>
<rect x="1056" y="450.2" width="5" height="22.3" fill="#053c80"/>
<rect x="1063" y="459.0" width="1" height="36.8" fill="#053c80"/>
<rect x="1061" y="472.1" width="5" height="5.7" fill="#053c80"/>
<rect x="1068" y="443.0" width="1" height="34.6" fill="#0b6cbf"/>
<rect x="1066" y="450.2" width="5" height="27.4" fill="#0b6cbf"/><rect x="1067" y="451.2" width="3" height="25.4" fill="#00fcff"/>
<rect x="1073" y="445.9" width="1" height="36.7" fill="#053c80"/>
<rect x="1071" y="450.2" width="5" height="21.4" fill="#053c80"/>
<rect x="1078" y="453.0" width="1" height="26.9" fill="#0b6cbf"/>
<rect x="1076" y="462.5" width="5" height="9.1" fill="#0b6cbf"/><rect x="1077" y="463.5" width="3" height="7.1" fill="#00fcff"/>
<rect x="1083" y="379.9" width="1" height="110.9" fill="#0b6cbf"/>
<rect x="1081" y="392.4" width="5" height="70.1" fill="#0b6cbf"/><rect x="1082" y="393.4" width="3" height="68.1" fill="#00fcff"/>
<rect x="1088" y="368.0" width="1" height="37.6" fill="#053c80"/>
<rect x="1086" y="392.2" width="5" height="4.4" fill="#053c80"/>
<rect x="1094" y="382.0" width="1" height="22.6" fill="#053c80"/>
<rect x="1092" y="396.3" width="5" height="3.3" fill="#053c80"/>
<rect x="1099" y="389.0" width="1" height="25.7" fill="#053c80"/>
<rect x="1097" y="399.1" width="5" height="12.3" fill="#053c80"/>
<rect x="1104" y="405.1" width="1" height="19.6" fill="#053c80"/>
<rect x="1102" y="411.4" width="5" height="5.0" fill="#053c80"/>
<rect x="1109" y="412.2" width="1" height="49.6" fill="#053c80"/>
<rect x="1107" y="416.0" width="5" height="29.6" fill="#053c80"/>
<rect x="1114" y="421.2" width="1" height="45.6" fill="#0b6cbf"/>
<rect x="1112" y="427.6" width="5" height="18.0" fill="#0b6cbf"/><rect x="1113" y="428.6" width="3" height="16.0" fill="#00fcff"/>
<rect x="1119" y="395.1" width="1" height="37.9" fill="#0b6cbf"/>
<rect x="1117" y="409.5" width="5" height="18.1" fill="#0b6cbf"/><rect x="1118" y="410.5" width="3" height="16.1" fill="#00fcff"/>
<rect x="1125" y="399.2" width="1" height="24.7" fill="#053c80"/>
<rect x="1123" y="409.5" width="5" height="2.7" fill="#053c80"/>
<rect x="1130" y="396.8" width="1" height="38.0" fill="#053c80"/>
<rect x="1128" y="411.9" width="5" height="15.6" fill="#053c80"/>
<rect x="1135" y="379.3" width="1" height="54.5" fill="#0b6cbf"/>
<rect x="1133" y="383.3" width="5" height="44.2" fill="#0b6cbf"/><rect x="1134" y="384.3" width="3" height="42.2" fill="#00fcff"/>
<rect x="1140" y="325.4" width="1" height="67.2" fill="#0b6cbf"/>
<rect x="1138" y="343.5" width="5" height="39.8" fill="#0b6cbf"/><rect x="1139" y="344.5" width="3" height="37.8" fill="#00fcff"/>
<rect x="1145" y="289.4" width="1" height="66.2" fill="#0b6cbf"/>
<rect x="1143" y="289.4" width="5" height="54.1" fill="#0b6cbf"/><rect x="1144" y="290.4" width="3" height="52.1" fill="#00fcff"/>
<rect x="1150" y="274.0" width="1" height="34.8" fill="#0b6cbf"/>
<rect x="1148" y="284.4" width="5" height="5.0" fill="#0b6cbf"/><rect x="1149" y="285.4" width="3" height="3.0" fill="#00fcff"/>
<rect x="1155" y="282.0" width="1" height="32.6" fill="#053c80"/>
<rect x="1153" y="284.2" width="5" height="22.5" fill="#053c80"/>
<rect x="1161" y="291.0" width="1" height="23.0" fill="#053c80"/>
<rect x="1159" y="306.3" width="5" height="4.1" fill="#053c80"/>
<rect x="1166" y="297.3" width="1" height="30.2" fill="#053c80"/>
<rect x="1164" y="309.8" width="5" height="11.9" fill="#053c80"/>
<rect x="1171" y="285.2" width="1" height="42.3" fill="#0b6cbf"/>
<rect x="1169" y="300.4" width="5" height="20.9" fill="#0b6cbf"/><rect x="1170" y="301.4" width="3" height="18.9" fill="#00fcff"/>
<rect x="1176" y="297.3" width="1" height="44.4" fill="#053c80"/>
<rect x="1174" y="300.0" width="5" height="30.6" fill="#053c80"/>
<rect x="1181" y="330.2" width="1" height="24.8" fill="#053c80"/>
<rect x="1179" y="330.2" width="5" height="18.6" fill="#053c80"/>
<rect x="1186" y="332.0" width="1" height="18.8" fill="#053c80"/>
<rect x="1184" y="348.2" width="5" height="1.2" fill="#053c80"/>
<rect x="1191" y="336.3" width="1" height="25.6" fill="#0b6cbf"/>
<rect x="1189" y="344.2" width="5" height="5.2" fill="#0b6cbf"/><rect x="1190" y="345.2" width="3" height="3.2" fill="#00fcff"/>
<rect x="1197" y="341.0" width="1" height="25.7" fill="#053c80"/>
<rect x="1195" y="343.6" width="5" height="1.2" fill="#053c80"/>
<rect x="1202" y="343.8" width="1" height="21.8" fill="#053c80"/>
<rect x="1200" y="344.8" width="5" height="20.8" fill="#053c80"/>
<rect x="1207" y="361.9" width="1" height="53.7" fill="#053c80"/>
<rect x="1205" y="365.4" width="5" height="46.1" fill="#053c80"/>
<line x1="0" y1="411.5" x2="1700" y2="411.5" stroke="#04a9e8" stroke-width="1" stroke-dasharray="1,2"/>
<g stroke="#0c9e86" stroke-width="4" fill="none" stroke-linecap="round" stroke-linejoin="round"><path d="M1212,395 L1367,237"/><path d="M1341,237 L1367.5,237 L1367.5,263"/></g>
<g><circle cx="1207.6" cy="716.4" r="14.8" fill="#ffffff"/><circle cx="1207.6" cy="716.4" r="12.2" fill="#fff" stroke="#9c27b0" stroke-width="2.1"/><polygon points="1212.2,709.6 1201.1,717.6 1208.1,716.9 1203.3,723.5 1214.2,715.0 1207.1,715.9" fill="#9c27b0" stroke="#9c27b0" stroke-width="0.7" stroke-linejoin="miter"/></g>
</svg>
<div class="pl" style="top:49.0px">84,000.00</div>
<div class="pl" style="top:91.0px">82,000.00</div>
<div class="pl" style="top:133.0px">80,000.00</div>
<div class="pl" style="top:176.0px">78,000.00</div>
<div class="pl" style="top:221.3px">76,000.00</div>
<div class="pl" style="top:267.0px">74,000.00</div>
<div class="pl" style="top:313.0px">72,000.00</div>
<div class="pl" style="top:362.0px">70,000.00</div>
<div class="pl" style="top:463.3px">66,000.00</div>
<div class="pl" style="top:502.0px">64,500.00</div>
<div class="pl" style="top:545.0px">62,900.00</div>
<div class="pl" style="top:589.0px">61,300.00</div>
<div class="pl" style="top:632.1px">59,800.00</div>
<div class="pl" style="top:672.0px">58,400.00</div>
<div class="pl" style="top:711.3px">57,100.00</div>
<div class="tl" style="left:41.8px">28</div>
<div class="tl b" style="left:165.5px">فبراير</div>
<div class="tl" style="left:258.0px">4</div>
<div class="tl" style="left:351.0px">7</div>
<div class="tl" style="left:444.0px">10</div>
<div class="tl" style="left:536.8px">13</div>
<div class="tl" style="left:629.4px">16</div>
<div class="tl" style="left:722.3px">19</div>
<div class="tl" style="left:815.0px">22</div>
<div class="tl" style="left:907.5px">25</div>
<div class="tl b" style="left:1031.2px;transform:scaleX(.85)">مارس</div>
<div class="tl" style="left:1124.2px">4</div>
<div class="tl" style="left:1217.0px">7</div>
<div class="tl" style="left:1310.0px">10</div>
<div class="tl" style="left:1402.6px">13</div>
<div class="tl" style="left:1495.4px">16</div>
<div class="tl" style="left:1588.2px">19</div>
<div class="tl" style="left:1680.8px">22</div>
<div id="title">Bitcoin / TetherUS · 4<span class="ar">ساعة</span> · Binance</div>
<div id="usdt"><span>USDT</span></div>
<div id="plabel"><span class="p">68,368.56</span><span class="t">07:45</span></div>
<div class="ann" style="left:1372px;top:199.7px">Target of the double bottom</div>
<div class="ann" style="left:876px;top:595.6px;font-size:17.5px">double bottom</div>
</div></body></html>
